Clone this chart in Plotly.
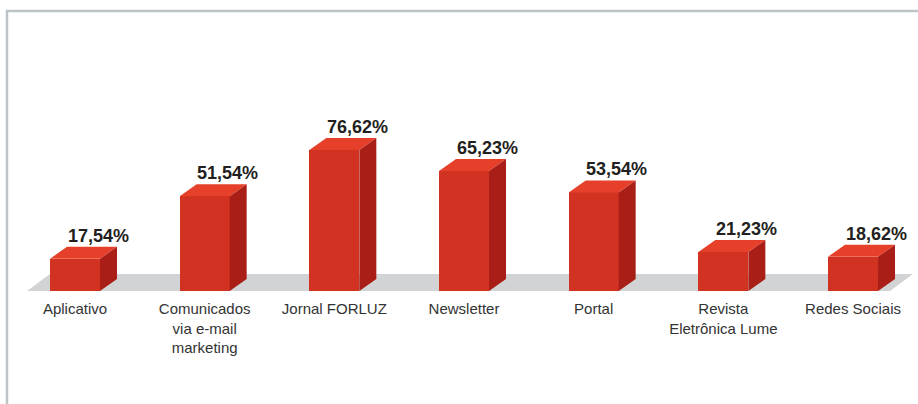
import plotly.graph_objects as go

categories = ["Aplicativo", "Comunicados<br>via e-mail<br>marketing", "Jornal FORLUZ",
              "Newsletter", "Portal", "Revista<br>Eletrônica Lume", "Redes Sociais"]
values = [17.54, 51.54, 76.62, 65.23, 53.54, 21.23, 18.62]
value_labels = ["17,54%", "51,54%", "76,62%", "65,23%", "53,54%", "21,23%", "18,62%"]

W, H = 918, 404
PX_X = 129.67          # pixels per category step
X0 = 75.0              # pixel of first category centre
BASE = 291.0           # pixel of y=0
PX_Y = 1.84            # pixels per percentage point

BAR_W = 50 / PX_X
DX = 17 / PX_X         # depth offset in x units
DY = 12 / PX_Y         # depth offset in y units

FRONT = "#d13222"
TOP = "#e7402a"
SIDE = "#a91f17"
FLOOR = "#d1d3d4"

xr = [-X0 / PX_X, (W - X0) / PX_X]
yr = [0, BASE / PX_Y]

fig = go.Figure()

xs = list(range(len(values)))

# bars (front faces)
fig.add_trace(go.Bar(x=xs, y=values, width=BAR_W, marker=dict(color=FRONT, line=dict(width=0)),
                     hoverinfo="skip", showlegend=False))

# top and side faces
for i, v in enumerate(values):
    l = i - BAR_W / 2
    r = i + BAR_W / 2
    fig.add_trace(go.Scatter(x=[l, r, r + DX, l + DX, l], y=[v, v, v + DY, v + DY, v],
                             mode="lines", fill="toself", fillcolor=TOP,
                             line=dict(width=0, color=TOP), hoverinfo="skip", showlegend=False))
    fig.add_trace(go.Scatter(x=[r, r + DX, r + DX, r, r], y=[0, DY, v + DY, v, 0],
                             mode="lines", fill="toself", fillcolor=SIDE,
                             line=dict(width=0, color=SIDE), hoverinfo="skip", showlegend=False))

annotations = []
for i, (v, t) in enumerate(zip(values, value_labels)):
    annotations.append(dict(x=i + 23 / PX_X, y=v + DY, text=t, showarrow=False,
                            xanchor="center", yanchor="bottom", yshift=-1,
                            font=dict(family="Liberation Sans, Arial, sans-serif", size=18,
                                      color="#231f20", weight="bold")))

# floor (drawn below the bars)
fdx = 23 / PX_X
fdy = 17 / PX_Y
fl = (27 - X0) / PX_X
fr = (890 - X0) / PX_X
floor_path = (f"M {fl},0 L {fr},0 L {fr + fdx},{fdy} L {fl + fdx},{fdy} Z")

frame = "#bcc4c8"
shapes = [
    dict(type="path", xref="x", yref="y", path=floor_path, fillcolor=FLOOR,
         line=dict(width=0), layer="below"),
    dict(type="line", xref="paper", yref="paper", x0=6 / W, x1=1.0,
         y0=1 - 11 / BASE, y1=1 - 11 / BASE, line=dict(color=frame, width=2.5)),
    dict(type="line", xref="paper", yref="paper", x0=7 / W, x1=7 / W,
         y0=1 - 10 / BASE, y1=-(H - BASE) / BASE, line=dict(color=frame, width=2.5)),
]

fig.update_layout(
    width=W, height=H,
    margin=dict(l=0, r=0, t=0, b=H - BASE, pad=0),
    paper_bgcolor="white", plot_bgcolor="white",
    bargap=0,
    xaxis=dict(range=xr, tickvals=xs, ticktext=categories, showgrid=False, zeroline=False,
               showline=False, ticks="", ticklabelstandoff=7,
               tickfont=dict(family="Liberation Sans, Arial, sans-serif",
                             size=15, color="#333333"),
               fixedrange=True),
    yaxis=dict(range=yr, showgrid=False, zeroline=False, showline=False, showticklabels=False,
               ticks="", fixedrange=True),
    annotations=annotations,
    shapes=shapes,
)

fig.write_html("out.html", config={"displayModeBar": False},
               post_script="document.body.style.margin='0';document.body.style.padding='0';"
                           "document.documentElement.style.overflow='hidden';")
